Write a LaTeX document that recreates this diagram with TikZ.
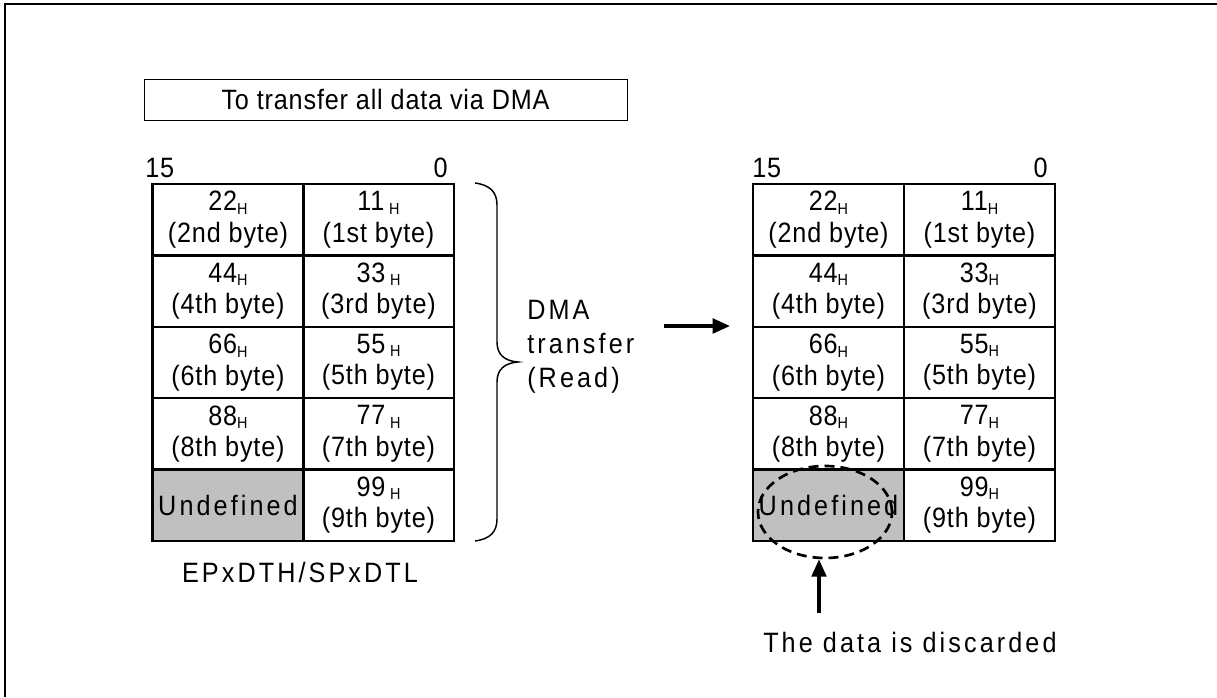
\documentclass[tikz,border=0pt]{standalone}
\usepackage{fontspec}
\setmainfont{Liberation Sans}[LetterSpace=3,FakeStretch=0.9]
\newfontfamily\widefont{Liberation Sans}[LetterSpace=11,FakeStretch=0.9]
\usetikzlibrary{arrows.meta,shapes.geometric}
\definecolor{cellgray}{HTML}{C0C0C0}
\newcommand\hsub{\raisebox{-2.5pt}{\fontsize{12}{12}\selectfont H}}
\begin{document}
\begin{tikzpicture}[x=0.75pt,y=-0.75pt,
  txt/.style={font=\fontsize{21}{23}\selectfont, inner sep=0pt},
  cell/.style={draw, line width=1.9pt, minimum width=113.25pt, minimum height=53.55pt,
    inner sep=0pt, align=center, font=\fontsize{21}{23.5}\selectfont},
  undef/.style={cell, fill=cellgray, font=\fontsize{21}{23.5}\selectfont\widefont},
  wide/.style={inner sep=0pt, font=\fontsize{21}{25.5}\selectfont\widefont},
  arr/.style={line width=2.4pt, -{Triangle[length=13pt,width=11pt]}}]
\useasboundingbox (0,0) rectangle (1217,697);
% frame
\draw[line width=1.6pt] (5,697) -- (5,4) -- (1217,4);
% title
\node[draw, line width=0.75pt, minimum width=362.25pt, minimum height=30.75pt, txt]
  (title) at (385.5,99.5) {To transfer all data via DMA};
% left table
\node[txt, anchor=west] (l15) at (145,168) {15};
\node[txt, anchor=east] (l0) at (448,168) {0};
\node[cell] (la1) at (228,219.7) {22\hsub\\(2nd byte)};
\node[cell] (lb1) at (378.5,219.7) {11\,\hsub\\(1st byte)};
\node[cell] (la2) at (228,291.1) {44\hsub\\(4th byte)};
\node[cell] (lb2) at (378.5,291.1) {33\,\hsub\\(3rd byte)};
\node[cell] (la3) at (228,362.5) {66\hsub\\(6th byte)};
\node[cell] (lb3) at (378.5,362.5) {55\,\hsub\\(5th byte)};
\node[cell] (la4) at (228,433.9) {88\hsub\\(8th byte)};
\node[cell] (lb4) at (378.5,433.9) {77\,\hsub\\(7th byte)};
\node[undef] (la5) at (228,505.3) {Undefined};
\node[cell] (lb5) at (378.5,505.3) {99\,\hsub\\(9th byte)};
\node[wide] (lreg) at (300,572) {EPxDTH/SPxDTL};
% brace
\draw[line width=1.1pt] (475,183) .. controls (490,185) and (497,192) .. (497,205)
  -- (497,342) .. controls (497,355) and (505,361) .. (518,362)
  .. controls (505,363) and (497,369) .. (497,382)
  -- (497,519) .. controls (497,532) and (490,539) .. (475,541);
\node[wide, anchor=west, align=left] (dma) at (527,347) {DMA\\transfer\\(Read)};
% arrow
\coordinate (a1) at (664,326);
\coordinate (a2) at (730,326);
\draw[arr] (a1) -- (a2);
% right table
\node[txt, anchor=west] (r15) at (752,168) {15};
\node[txt, anchor=east] (r0) at (1048,168) {0};
\node[cell] (ra1) at (828.5,219.7) {22\hsub\\(2nd byte)};
\node[cell] (rb1) at (979.5,219.7) {11\hsub\\(1st byte)};
\node[cell] (ra2) at (828.5,291.1) {44\hsub\\(4th byte)};
\node[cell] (rb2) at (979.5,291.1) {33\hsub\\(3rd byte)};
\node[cell] (ra3) at (828.5,362.5) {66\hsub\\(6th byte)};
\node[cell] (rb3) at (979.5,362.5) {55\hsub\\(5th byte)};
\node[cell] (ra4) at (828.5,433.9) {88\hsub\\(8th byte)};
\node[cell] (rb4) at (979.5,433.9) {77\hsub\\(7th byte)};
\node[undef] (ra5) at (828.5,505.3) {Undefined};
\node[cell] (rb5) at (979.5,505.3) {99\hsub\\(9th byte)};
% discarded
\node[ellipse, draw, line width=2pt, dash pattern=on 7.5pt off 4.5pt,
  minimum width=100.5pt, minimum height=69pt, inner sep=0pt] (disc) at (825,512) {};
\coordinate (b1) at (819,613);
\draw[arr] (b1) -- (disc.south -| b1);
\node[wide, anchor=west] (note) at (763,642) {The data is discarded};
\end{tikzpicture}
\end{document}
